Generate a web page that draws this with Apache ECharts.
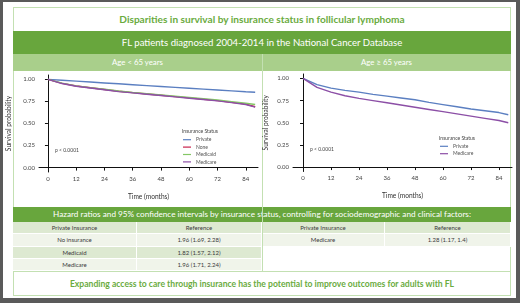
<!DOCTYPE html>
<html>
<head>
<meta charset="utf-8">
<script src="https://cdn.jsdelivr.net/npm/echarts@6/dist/echarts.min.js"></script>
<style>
	html, body { margin: 0; padding: 0; width: 520px; height: 303px; overflow: hidden; background: #fff; font-family: Lato, "Open Sans", sans-serif; }
	.abs { position: absolute; box-sizing: border-box; }
	.outer { left: 0; top: 0; width: 520px; height: 303px; border-style: solid; border-color: #5a5a5a; border-width: 2px 4px 5px 3px; }
	.frame { left: 13px; top: 7px; width: 498px; height: 289px; border: 1px solid #c3e0b2; }
	.title { left: 13px; top: 7px; width: 498px; height: 24px; line-height: 24px; text-align: center; font-weight: bold; color: #6aab3e; font-size: 10.1px; }
	.band { left: 13px; top: 31px; width: 498px; height: 23px; line-height: 23px; background: #68a63d; color: #fff; text-align: center; font-size: 9.6px; }
	.ageband { top: 54px; height: 17px; line-height: 17px; background: #a9cf8b; color: #fff; text-align: center; font-size: 7.8px; }
	.divider { left: 262px; top: 54px; width: 1px; height: 218px; background: #c3e0b2; }
	.hrband { left: 13px; top: 207px; width: 498px; height: 15px; line-height: 15px; background: #68a63d; color: #fff; text-align: center; font-size: 8.2px; }
	.cell { text-align: center; color: #3a3a3a; font-size: 6px; border-right: 1px solid #fff; border-bottom: 1px solid #fff; }
	.bottomline { left: 13px; top: 271px; width: 498px; height: 1px; background: #c3e0b2; }
	.footer { left: 13px; top: 272px; width: 498px; height: 24px; line-height: 24px; text-align: center; font-weight: bold; color: #6aab3e; font-size: 8.6px; }
	#chart { position: absolute; left: 0; top: 0; width: 520px; height: 303px; pointer-events: none; }
</style>
</head>
<body>
	<div class="abs outer"></div>
	<div class="abs frame"></div>
	<div class="abs title">Disparities in survival by insurance status in follicular lymphoma</div>
	<div class="abs band">FL patients diagnosed 2004-2014 in the National Cancer Database</div>
	<div class="abs ageband" style="left:13px;width:249px;">Age &lt; 65 years</div>
	<div class="abs ageband" style="left:262px;width:249px;">Age ≥ 65 years</div>
	<div class="abs hrband">Hazard ratios and 95% confidence intervals by insurance status, controlling for sociodemographic and clinical factors:</div>
	<div id="table"></div>
	<div class="abs bottomline"></div>
	<div class="abs divider"></div>
	<div class="abs footer">Expanding access to care through insurance has the potential to improve outcomes for adults with FL</div>
	<div id="chart"></div>

<script>
	// time points (months)
	const months = [0, 6, 12, 18, 24, 30, 36, 42, 48, 54, 60, 66, 72, 78, 84, 88]
	// Age < 65
	const youngPrivate  = [1.00, 0.99, 0.98, 0.97, 0.96, 0.95, 0.94, 0.93, 0.92, 0.91, 0.90, 0.89, 0.88, 0.87, 0.86, 0.855]
	const youngNone     = [1.00, 0.955, 0.925, 0.905, 0.885, 0.865, 0.85, 0.835, 0.82, 0.805, 0.79, 0.775, 0.76, 0.74, 0.72, 0.69]
	const youngMedicaid = [1.00, 0.958, 0.927, 0.907, 0.888, 0.868, 0.852, 0.838, 0.824, 0.81, 0.796, 0.782, 0.766, 0.748, 0.73, 0.715]
	const youngMedicare = [1.00, 0.953, 0.922, 0.902, 0.882, 0.862, 0.847, 0.832, 0.817, 0.802, 0.787, 0.772, 0.756, 0.737, 0.715, 0.685]
	// Age >= 65
	const oldPrivate  = [1.00, 0.93, 0.89, 0.865, 0.845, 0.82, 0.80, 0.78, 0.76, 0.73, 0.705, 0.68, 0.655, 0.635, 0.615, 0.59]
	const oldMedicare = [1.00, 0.90, 0.845, 0.805, 0.775, 0.75, 0.725, 0.70, 0.675, 0.65, 0.625, 0.60, 0.575, 0.55, 0.525, 0.50]

	const xTicks = [0, 12, 24, 36, 48, 60, 72, 84]
	const yTicks = [0, 0.25, 0.5, 0.75, 1]

	// hazard ratio table
	const hrLeft = [
		['Private Insurance', 'Reference'],
		['No insurance', '1.96 (1.69, 2.28)'],
		['Medicaid', '1.82 (1.57, 2.12)'],
		['Medicare', '1.96 (1.71, 2.24)']
	]
	const hrRight = [
		['Private Insurance', 'Reference'],
		['Medicare', '1.28 (1.17, 1.4)']
	]

	const colors = { Private: '#5b7fc1', None: '#c8234c', Medicaid: '#84c766', Medicare: '#8c4fa6' }

	//table cells
	const rowTops = [222, 234, 246.5, 259, 271]
	const rowBg = ['#dde9d1', '#f0f4ea', '#dde9d1', '#f0f4ea']
	const drawGroup = (rows, cols) => {
		let html = ''
		rows.forEach((r, i) => {
			r.forEach((txt, j) => {
				const h = rowTops[i + 1] - rowTops[i]
				html += `<div class="abs cell" style="left:${cols[j]}px;top:${rowTops[i]}px;width:${cols[j + 1] - cols[j]}px;height:${h}px;line-height:${h}px;background:${rowBg[i]}">${txt}</div>`
			})
		})
		return html
	}
	document.getElementById('table').innerHTML = drawGroup(hrLeft, [13, 137, 262]) + drawGroup(hrRight, [262, 385, 511])

	const pts = arr => months.map((m, i) => [m, arr[i]])
	const axisText = { color: '#444', fontSize: 6, fontFamily: 'Lato' }

	const makeX = (idx, min, max) => ({
		type: 'value', gridIndex: idx, min: min, max: max,
		name: 'Time (months)', nameLocation: 'middle', nameGap: 21,
		nameTextStyle: { color: '#333', fontSize: 6.6, fontFamily: 'Lato' },
		axisLine: { lineStyle: { color: '#111', width: 1 } },
		axisTick: { customValues: xTicks, length: 3, lineStyle: { color: '#111' } },
		axisLabel: { customValues: xTicks, margin: 4, ...axisText },
		splitLine: { show: false }
	})
	const makeY = (idx, gap) => ({
		type: 'value', gridIndex: idx, min: -0.05, max: 1.05,
		name: 'Survival probability', nameLocation: 'middle', nameGap: gap, nameRotate: 90,
		nameTextStyle: { color: '#333', fontSize: 6.6, fontFamily: 'Lato' },
		axisLine: { show: true, lineStyle: { color: '#111', width: 1 } },
		axisTick: { show: true, customValues: yTicks, length: 3, lineStyle: { color: '#111' } },
		axisLabel: { customValues: yTicks, margin: 4, formatter: v => v.toFixed(2), ...axisText },
		splitLine: { show: false }
	})
	const line = (name, data, idx) => ({
		name: name, type: 'line', xAxisIndex: idx, yAxisIndex: idx,
		data: pts(data), showSymbol: false, silent: true,
		lineStyle: { width: 1.4, color: colors[name] }, itemStyle: { color: colors[name] }
	})
	const legendBase = {
		orient: 'vertical', icon: 'rect', itemWidth: 8, itemHeight: 1.2, itemGap: 1.4, padding: 0,
		textStyle: { fontSize: 5, lineHeight: 6, color: '#555', fontFamily: 'Lato' }
	}
	const smallText = (x, y, txt) => ({ type: 'text', left: x, top: y, style: { text: txt, fontSize: 5, fill: '#444', fontFamily: 'Lato' } })

	const chart = echarts.init(document.getElementById('chart'))
	chart.setOption({
		animation: false,
		grid: [
			{ left: 39, top: 75, width: 219, height: 97 },
			{ left: 293, top: 74, width: 219, height: 97.5 }
		],
		xAxis: [makeX(0, -3.8, 89.2), makeX(1, -4.3, 89.6)],
		yAxis: [makeY(0, 27), makeY(1, 24)],
		legend: [
			{ ...legendBase, left: 183, top: 136.7, data: ['Private', 'None', 'Medicaid', 'Medicare'] },
			{ ...legendBase, left: 440, top: 143.3, data: ['Private', 'Medicare'] }
		],
		graphic: [
			smallText(182, 129, 'Insurance Status'),
			smallText(439, 136, 'Insurance Status'),
			smallText(55, 147.5, 'p < 0.0001'),
			smallText(310, 146.5, 'p < 0.0001')
		],
		series: [
			line('Private', youngPrivate, 0),
			line('None', youngNone, 0),
			line('Medicaid', youngMedicaid, 0),
			line('Medicare', youngMedicare, 0),
			line('Private', oldPrivate, 1),
			line('Medicare', oldMedicare, 1)
		]
	})
</script>
</body>
</html>
